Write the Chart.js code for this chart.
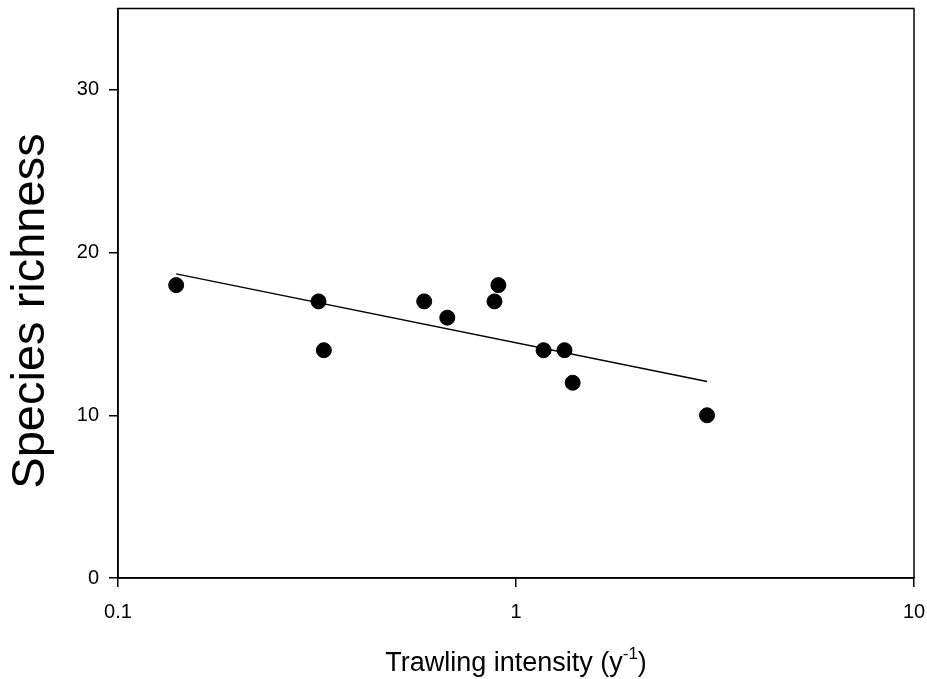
<!DOCTYPE html>
<html>
<head>
<meta charset="utf-8">
<script src="https://cdn.jsdelivr.net/npm/chart.js@4.4.1/dist/chart.umd.min.js"></script>
<style>
html,body{margin:0;padding:0;background:#fff;}
#wrap{width:927px;height:679px;position:relative;}
</style>
</head>
<body>
<div id="wrap"><canvas id="c" width="927" height="679"></canvas></div>
<script>
// Data
const trawlingIntensity = [0.14, 0.319, 0.329, 0.588, 0.672, 0.883, 0.903, 1.173, 1.324, 1.388, 3.02];
const speciesRichness   = [18, 17, 14, 17, 16, 17, 18, 14, 14, 12, 10];
const fitX = [0.14, 3.02];
const fitY = [18.69, 12.07];
const xTickValues = [0.1, 1, 10];
const yTickValues = [0, 10, 20, 30];
const xTitle = "Trawling intensity (y";
const xTitleSup = "-1";
const yTitle = "Species richness";

const FONT = "'Liberation Sans', Arial, Helvetica, sans-serif";

function zeroPad(scale) {
  scale.paddingTop = 0; scale.paddingBottom = 0;
  scale.paddingLeft = 0; scale.paddingRight = 0;
}

const framePlugin = {
  id: 'frame',
  afterDraw(chart) {
    const {ctx, chartArea: a} = chart;
    ctx.save();
    ctx.strokeStyle = '#000';
    ctx.lineWidth = 1.5;
    ctx.strokeRect(a.left, a.top, a.right - a.left, a.bottom - a.top);
    // y title
    ctx.fillStyle = '#000';
    ctx.font = '47px ' + FONT;
    ctx.textAlign = 'center';
    ctx.textBaseline = 'middle';
    ctx.save();
    ctx.translate(31, 311);
    ctx.rotate(-Math.PI / 2);
    ctx.fillText(yTitle, 0, 0);
    ctx.restore();
    // x title with superscript
    const mainFont = '27px ' + FONT;
    const supFont = '17px ' + FONT;
    ctx.textBaseline = 'alphabetic';
    ctx.textAlign = 'left';
    ctx.font = mainFont;
    const w1 = ctx.measureText(xTitle).width;
    const w3 = ctx.measureText(')').width;
    ctx.font = supFont;
    const w2 = ctx.measureText(xTitleSup).width;
    const total = w1 + w2 + w3;
    const cx = (a.left + a.right) / 2;
    const x0 = cx - total / 2;
    const base = 671;
    ctx.font = mainFont;
    ctx.fillText(xTitle, x0, base);
    ctx.font = supFont;
    ctx.fillText(xTitleSup, x0 + w1, base - 12);
    ctx.font = mainFont;
    ctx.fillText(')', x0 + w1 + w2, base);
    ctx.restore();
  }
};

new Chart(document.getElementById('c'), {
  type: 'scatter',
  data: {
    datasets: [
      {
        type: 'line',
        data: fitX.map((x, i) => ({x: x, y: fitY[i]})),
        borderColor: '#000',
        borderWidth: 1.5,
        pointRadius: 0,
        fill: false,
        order: 2
      },
      {
        data: trawlingIntensity.map((x, i) => ({x: x, y: speciesRichness[i]})),
        backgroundColor: '#000',
        borderColor: '#000',
        pointRadius: 7.5,
        pointHoverRadius: 7.5,
        order: 1
      }
    ]
  },
  options: {
    responsive: false,
    animation: false,
    layout: {padding: {left: 0, right: 13, top: 5, bottom: 0}},
    plugins: {legend: {display: false}, tooltip: {enabled: false}},
    scales: {
      x: {
        type: 'logarithmic',
        min: 0.1,
        max: 10,
        afterBuildTicks(scale) { scale.ticks = xTickValues.map(v => ({value: v})); },
        afterFit(scale) { scale.height = 101; zeroPad(scale); },
        grid: {drawOnChartArea: false, drawTicks: true, tickLength: 9, color: '#000', lineWidth: 1.5},
        border: {display: true, color: '#000', width: 1.5},
        ticks: {
          color: '#000',
          font: {family: FONT, size: 20},
          padding: 13,
          maxRotation: 0,
          autoSkip: false,
          callback: (v) => String(v)
        }
      },
      y: {
        type: 'linear',
        min: 0,
        max: 35,
        afterBuildTicks(scale) { scale.ticks = yTickValues.map(v => ({value: v})); },
        afterFit(scale) { scale.width = 118; zeroPad(scale); },
        grid: {drawOnChartArea: false, drawTicks: true, tickLength: 9, color: '#000', lineWidth: 1.5},
        border: {display: true, color: '#000', width: 1.5},
        ticks: {
          color: '#000',
          font: {family: FONT, size: 20},
          padding: 10,
          callback: (v) => String(v)
        }
      }
    }
  },
  plugins: [framePlugin]
});
</script>
</body>
</html>
